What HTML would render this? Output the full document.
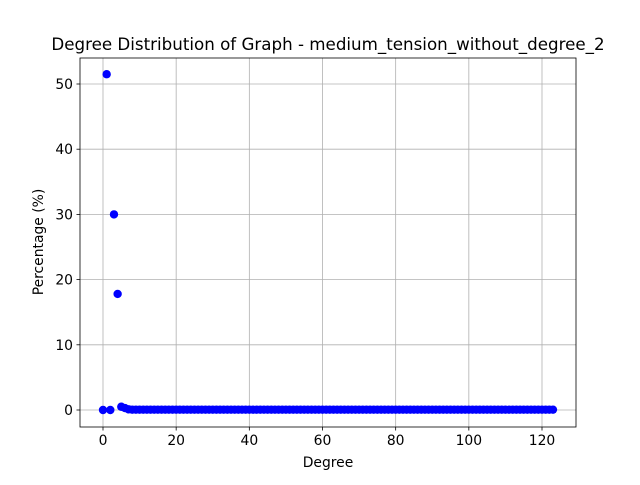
<!DOCTYPE html>
<html><head><meta charset="utf-8"><style>
body{margin:0;background:#fff;font-family:"Liberation Sans","DejaVu Sans",sans-serif}
svg text{font-family:"DejaVu Sans","Liberation Sans",sans-serif}
</style></head><body>
<svg id="c" width="640" height="480" xmlns="http://www.w3.org/2000/svg"></svg>
<script>
const degrees = [];
for (let d = 0; d <= 123; d++) degrees.push(d);
const percentages = [0,51.5,0,30,17.8,0.5,0.3,0.1,
0.05,0.05,0.05,0.05,0.05,0.05,0.05,0.05,0.05,0.05,0.05,0.05,0.05,0.05,0.05,0.05,0.05,0.05,0.05,0.05,0.05,0.05,
0.05,0.05,0.05,0.05,0.05,0.05,0.05,0.05,0.05,0.05,0.05,0.05,0.05,0.05,0.05,0.05,0.05,0.05,0.05,0.05,0.05,0.05,
0.05,0.05,0.05,0.05,0.05,0.05,0.05,0.05,0.05,0.05,0.05,0.05,0.05,0.05,0.05,0.05,0.05,0.05,0.05,0.05,0.05,0.05,
0.05,0.05,0.05,0.05,0.05,0.05,0.05,0.05,0.05,0.05,0.05,0.05,0.05,0.05,0.05,0.05,0.05,0.05,0.05,0.05,0.05,0.05,
0.05,0.05,0.05,0.05,0.05,0.05,0.05,0.05,0.05,0.05,0.05,0.05,0.05,0.05,0.05,0.05,0.05,0.05,0.05,0.05,0.05,0.05,
0.05,0.05,0.05,0.05,0.05,0.05,0.05,0.05,0.05,0.05,0.05,0.05];
const xTicks = [0,20,40,60,80,100,120];
const yTicks = [0,10,20,30,40,50];

const L=80,R=576,T=58,B=427;
const X=v=>103+v*(542-103)/120;
const Y=v=>410-v*(410-84)/50;
const svg=document.getElementById('c');
const NS='http://www.w3.org/2000/svg';
function mk(tag,attrs,parent){const e=document.createElementNS(NS,tag);for(const k in attrs)e.setAttribute(k,attrs[k]);(parent||svg).appendChild(e);return e;}

const grid=mk('g',{});


xTicks.forEach(t=>{
  mk('line',{x1:X(t),x2:X(t),y1:T,y2:B,stroke:'#b0b0b0','stroke-width':0.8},grid);
  mk('line',{x1:X(t),x2:X(t),y1:B,y2:B+3.5,stroke:'#000','stroke-width':0.8});
  const tx=mk('text',{x:X(t),y:B+18,'text-anchor':'middle','font-size':13.9});
  tx.textContent=t;
  
  
});
yTicks.forEach(t=>{
  mk('line',{x1:L,x2:R,y1:Y(t),y2:Y(t),stroke:'#b0b0b0','stroke-width':0.8},grid);
  mk('line',{x1:L-3.5,x2:L,y1:Y(t),y2:Y(t),stroke:'#000','stroke-width':0.8});
  const tx=mk('text',{x:L-7,y:Y(t)+5,'text-anchor':'end','font-size':13.9});
  tx.textContent=t;
  
  
});
const pts=mk('g',{});


degrees.forEach((d,i)=>{
  const c=mk('circle',{cx:X(d),cy:Y(percentages[i]),r:4.2,fill:'#0000ff'},pts);
  
  
});
const frame=mk('rect',{x:L,y:T,width:R-L,height:B-T,fill:'none',stroke:'#000','stroke-width':0.8});


const title=mk('text',{x:328,y:50,'text-anchor':'middle','font-size':16.7});
title.textContent='Degree Distribution of Graph - medium_tension_without_degree_2';


const xl=mk('text',{x:328,y:467,'text-anchor':'middle','font-size':13.9});
xl.textContent='Degree';


const yl=mk('text',{x:0,y:0,'text-anchor':'middle','font-size':13.9,transform:'translate(43,242) rotate(-90)'});
yl.textContent='Percentage (%)';


</script>
</body></html>
